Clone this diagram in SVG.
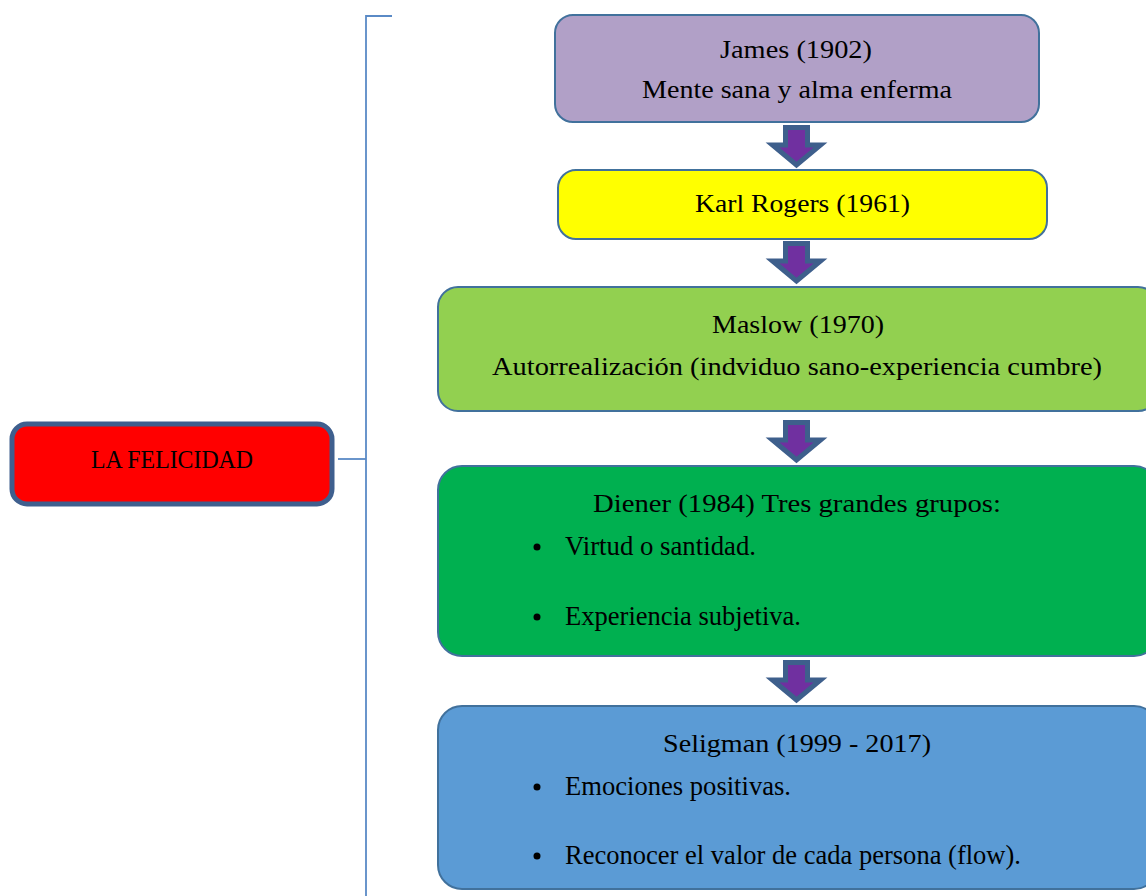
<svg xmlns="http://www.w3.org/2000/svg" width="1146" height="896" viewBox="0 0 1146 896">
<style>
.box{stroke:#41719C;stroke-width:2}
.t{font-family:"Liberation Serif","DejaVu Serif",serif;font-size:26px;fill:#000;text-anchor:middle}
.b{font-family:"Liberation Serif","DejaVu Serif",serif;font-size:26.5px;fill:#000}
.arr{fill:#7030A0;stroke:#3E5F8C;stroke-width:5;stroke-linejoin:miter}
.br{fill:none;stroke:#5A8AC6;stroke-width:1.8}
</style>
<defs>
<path id="arrow" d="M-11,2.5 H11 V20 H24 L0,40 L-24,20 H-11 Z"/>
</defs>
<g id="connectors">
<path class="br" d="M392,16 H366 V896"/>
<path class="br" d="M338,459 H366"/>
<use href="#arrow" class="arr" transform="translate(796.5,125)"/>
<use href="#arrow" class="arr" transform="translate(796.5,241)"/>
<use href="#arrow" class="arr" transform="translate(796.5,420)"/>
<use href="#arrow" class="arr" transform="translate(796.5,660)"/>
</g>
<g id="felicidad">
<rect x="12" y="424" width="320" height="80" rx="15" fill="#FF0000" stroke="#3F5F8E" stroke-width="5"/>
<text class="t" x="172" y="468" font-size="23" textLength="162" lengthAdjust="spacingAndGlyphs">LA FELICIDAD</text>
</g>
<g id="james">
<rect class="box" x="555" y="15" width="484" height="107" rx="18" fill="#B1A0C7"/>
<text class="t" x="796" y="58" textLength="152" lengthAdjust="spacingAndGlyphs">James (1902)</text>
<text class="t" x="797" y="98" textLength="310" lengthAdjust="spacingAndGlyphs">Mente sana y alma enferma</text>
</g>
<g id="rogers">
<rect class="box" x="558" y="170" width="489" height="69" rx="18" fill="#FFFF00"/>
<text class="t" x="802.5" y="212" textLength="215" lengthAdjust="spacingAndGlyphs">Karl Rogers (1961)</text>
</g>
<g id="maslow">
<rect class="box" x="438" y="287" width="720" height="124" rx="20" fill="#92D050"/>
<text class="t" x="798" y="333" textLength="172" lengthAdjust="spacingAndGlyphs">Maslow (1970)</text>
<text class="t" x="797" y="375" textLength="610" lengthAdjust="spacingAndGlyphs">Autorrealización (indviduo sano-experiencia cumbre)</text>
</g>
<g id="diener">
<rect class="box" x="438" y="466" width="720" height="190" rx="24" fill="#00B050"/>
<text class="t" x="797" y="512" textLength="408" lengthAdjust="spacingAndGlyphs">Diener (1984) Tres grandes grupos:</text>
<circle cx="537" cy="547" r="3.5" fill="#000"/>
<text class="b" x="565" y="555" textLength="191" lengthAdjust="spacingAndGlyphs">Virtud o santidad.</text>
<circle cx="537" cy="617" r="3.5" fill="#000"/>
<text class="b" x="565" y="625" textLength="236" lengthAdjust="spacingAndGlyphs">Experiencia subjetiva.</text>
</g>
<g id="seligman">
<rect class="box" x="438" y="706" width="720" height="183" rx="24" fill="#5B9BD5"/>
<text class="t" x="797" y="752" textLength="268" lengthAdjust="spacingAndGlyphs">Seligman (1999 - 2017)</text>
<circle cx="537" cy="787" r="3.5" fill="#000"/>
<text class="b" x="565" y="795" textLength="226" lengthAdjust="spacingAndGlyphs">Emociones positivas.</text>
<circle cx="537" cy="856" r="3.5" fill="#000"/>
<text class="b" x="565" y="864" textLength="456" lengthAdjust="spacingAndGlyphs">Reconocer el valor de cada persona (flow).</text>
</g>
</svg>
